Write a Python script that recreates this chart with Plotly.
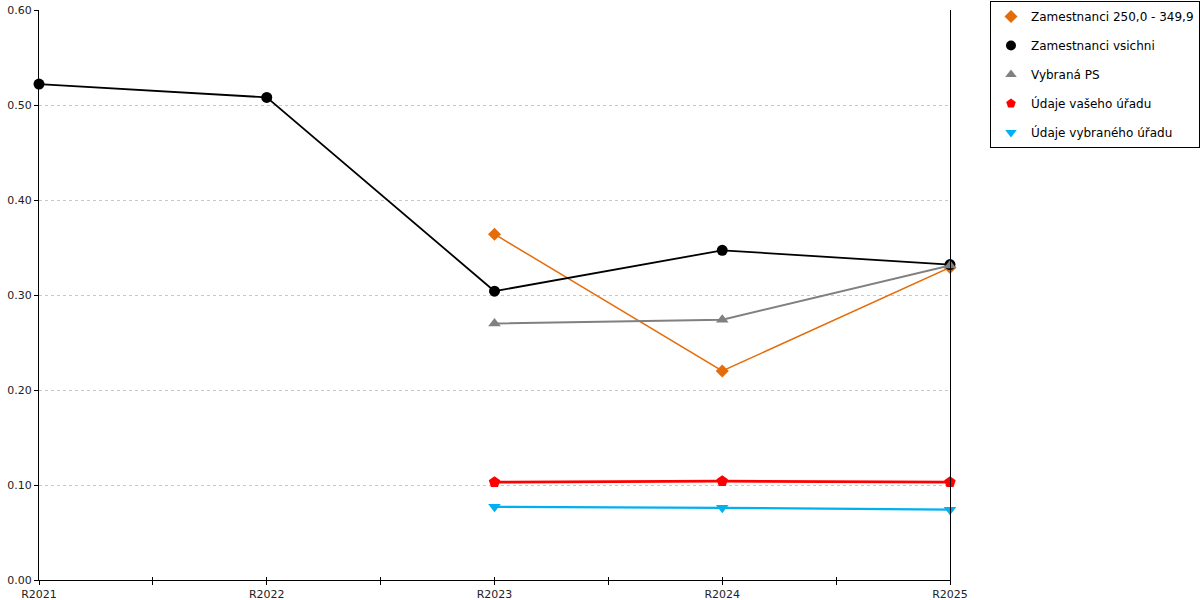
import plotly.graph_objects as go

# Categories and series values
years = ["R2021", "R2022", "R2023", "R2024", "R2025"]

zam_250 = [None, None, 0.364, 0.220, 0.329]
zam_all = [0.522, 0.508, 0.304, 0.347, 0.332]
vybrana_ps = [None, None, 0.270, 0.274, 0.331]
vas_urad = [None, None, 0.103, 0.104, 0.103]
vybrany_urad = [None, None, 0.077, 0.076, 0.074]

y_ticks = [0.0, 0.1, 0.2, 0.3, 0.4, 0.5, 0.6]

series = [
    ("Zamestnanci 250,0 - 349,9", zam_250, "#E46C0A", "diamond", 1.5, 10),
    ("Zamestnanci vsichni", zam_all, "#000000", "circle", 1.8, 11),
    ("Vybraná PS", vybrana_ps, "#808080", "triangle-up", 2, 11),
    ("Údaje vašeho úřadu", vas_urad, "#FF0000", "pentagon", 2.8, 12),
    ("Údaje vybraného úřadu", vybrany_urad, "#00B0F0", "triangle-down", 2.2, 11),
]

xpos = list(range(len(years)))

fig = go.Figure()
for i, (name, vals, color, symbol, lw, ms) in enumerate(series):
    # the line itself
    fig.add_trace(go.Scatter(
        x=xpos, y=vals, mode="lines+markers", name=name,
        line=dict(color=color, width=lw),
        marker=dict(symbol=symbol, color=color, size=ms),
        cliponaxis=False, showlegend=False,
    ))
    # marker-only legend entry (on the overlay axis so it gets drawn)
    fig.add_trace(go.Scatter(
        x=[None], y=[None], mode="markers", name=name, xaxis="x2",
        marker=dict(symbol=symbol, color=color, size=10),
        legendgroup=f"g{i}", showlegend=True,
    ))

fig.update_layout(
    width=1200, height=600,
    margin=dict(l=39, r=250, t=10, b=20, autoexpand=False),
    plot_bgcolor="white", paper_bgcolor="white",
    font=dict(family="DejaVu Sans", size=11, color="#222222"),
    legend=dict(
        x=1.0439, y=1.0158, xanchor="left", yanchor="top",
        bordercolor="black", borderwidth=1,
        font=dict(size=12, color="black"),
        tracegroupgap=10, traceorder="grouped",
        itemwidth=30,
    ),
    xaxis=dict(
        range=[0, 4], tickvals=xpos, ticktext=years, automargin=False,
        showgrid=False, zeroline=False,
        showline=True, linecolor="black", linewidth=1,
        ticks="outside", ticklen=4, tickcolor="black",
        minor=dict(dtick=0.5, tick0=0, ticks="outside", ticklen=4, tickcolor="black"),
    ),
    xaxis2=dict(
        overlaying="x", side="bottom", range=[0, 4], automargin=False,
        tickvals=xpos, showticklabels=False, showgrid=False, zeroline=False,
        ticks="inside", ticklen=3, tickcolor="black",
        minor=dict(dtick=0.5, tick0=0, ticks="inside", ticklen=3, tickcolor="black"),
    ),
    yaxis=dict(
        range=[0, 0.6], tickvals=y_ticks, tickformat=".2f", automargin=False,
        showgrid=True, gridcolor="#c8c8c8", griddash="dot", gridwidth=1,
        zeroline=False, showline=True, linecolor="black", linewidth=1, mirror=True,
        ticks="outside", ticklen=4, tickcolor="black",
    ),
)

# drop the default 8px body margin so the figure sits at the page corner
fig.write_html(
    "out.html",
    config={"displayModeBar": False},
    post_script="document.body.style.margin='0';",
)
